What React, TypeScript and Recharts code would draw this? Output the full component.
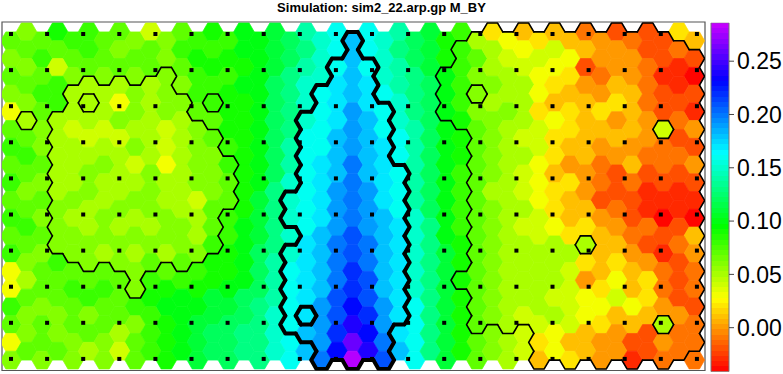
import { ScatterChart, Scatter, XAxis, YAxis, ReferenceLine, ReferenceArea, BarChart, Bar } from "recharts"

const title = "Simulation: sim2_22.arp.gp M_BY"

// one char per hex: value = -0.04 + 0.01 * index in levelChars
const levelChars = "0123456789ABCDEFGHIJKLMNOPQRSTUVWX"

// 19 hex rows x 45 columns (even columns sit half a row lower)
const valueRows = [
  "BABDC" + "CBBA8" + "ABCDC" + "EEFGI" + "JKMKJ" + "IGFDC" + "96756" + "55342" + "32265",
  "ABCBB" + "CBABB" + "ACDCD" + "EEFGH" + "JKMKJ" + "HGFDC" + "B9878" + "87544" + "42232",
  "BAB8A" + "BABAB" + "ABCDC" + "DEFHI" + "JKMKJ" + "IHFEC" + "A9987" + "76234" + "43110",
  "ABCC9" + "999A9" + "AACCD" + "EEGHJ" + "KLMLK" + "IHGEC" + "AA997" + "65445" + "53212",
  "7ABC9" + "997A9" + "AABCD" + "DEGHJ" + "KLNLK" + "JHGEC" + "A9A96" + "56566" + "53221",
  "B9A98" + "98A99" + "89ABD" + "DEGHJ" + "KLNMK" + "JIGED" + "BA998" + "76554" + "54834",
  "CBA99" + "898A9" + "89ABC" + "DEGIK" + "KMNML" + "KIGED" + "BA988" + "65545" + "44322",
  "BCB99" + "9A989" + "79AAC" + "DEGIK" + "LMOML" + "KIGED" + "BA997" + "64534" + "53334",
  "CBA99" + "A999A" + "99AAB" + "DEGJK" + "LMOML" + "KIGEC" + "BA987" + "56432" + "32222",
  "BAB9A" + "A99AA" + "998AB" + "DFHJK" + "LNONL" + "KIGEC" + "B9987" + "65422" + "21111",
  "CBAA9" + "9AA9A" + "A99BC" + "DFHJK" + "LNONM" + "KJGEC" + "BA998" + "65543" + "21010",
  "BCBAA" + "9A9A9" + "AA9BC" + "EFHJK" + "MNPNM" + "LJHEC" + "BA988" + "76654" + "33225",
  "CBAAA" + "A9A9A" + "9AACD" + "EGHJL" + "MOPOM" + "LJHFD" + "BA999" + "99955" + "42134",
  "7ABCB" + "ABAAB" + "BBCDD" + "EGIKL" + "MOQOM" + "LJHFD" + "BA999" + "98656" + "54323",
  "79BBC" + "BCBAC" + "DCDDE" + "EGIKL" + "MOQPM" + "LJHFD" + "BA999" + "98467" + "56323",
  "CBABB" + "CBBCD" + "EEEFF" + "GHIKL" + "NPRPN" + "LKHFD" + "BA999" + "88778" + "76422",
  "BABAB" + "ABBAC" + "DEFFG" + "GHJKL" + "NPSQN" + "LKHFD" + "BA988" + "98765" + "55943",
  "7ABAA" + "BA9BC" + "DEFGG" + "HHJKM" + "NQURO" + "LKHFD" + "BA986" + "75544" + "22433",
  "ABABA" + "9A8BC" + "DEFGG" + "HHJKM" + "ORWSP" + "MKHFD" + "BA985" + "76544" + "12333",
]

// "." outside, "a" thin contour region, "b" thick contour region
const flagRows = [
  "....." + "....." + "....." + "....." + "..b.." + "....." + "aaaaa" + "aaaaa" + "aaa..",
  "....." + "....." + "....." + "....." + "..b.." + "....a" + "aaaaa" + "aaaaa" + "aaaaa",
  "....." + "....." + "a...." + "....." + ".bbb." + "...aa" + "aaaaa" + "aaaaa" + "aaaaa",
  "....a" + "aaaaa" + "a...." + "....." + "bbbb." + "...aa" + ".aaaa" + "aaaaa" + "aaaaa",
  "....a" + ".aaaa" + "aa.a." + "....." + "bbbbb" + "...aa" + "aaaaa" + "aaaaa" + "aaaaa",
  ".a.aa" + "aaaaa" + "aaa.." + "....b" + "bbbbb" + "....a" + "aaaaa" + "aaaaa" + "aa.aa",
  "...aa" + "aaaaa" + "aaaa." + "....b" + "bbbbb" + "....." + "aaaaa" + "aaaaa" + "aaaaa",
  "...aa" + "aaaaa" + "aaaaa" + "....b" + "bbbbb" + "....." + "aaaaa" + "aaaaa" + "aaaaa",
  "...aa" + "aaaaa" + "aaaaa" + "....b" + "bbbbb" + "b...." + "aaaaa" + "aaaaa" + "aaaaa",
  "...aa" + "aaaaa" + "aaaaa" + "...bb" + "bbbbb" + "b...." + "aaaaa" + "aaaaa" + "aaaaa",
  "...aa" + "aaaaa" + "aaaa." + "...bb" + "bbbbb" + "b...." + "aaaaa" + "aaaaa" + "aaaaa",
  "...aa" + "aaaaa" + "aaaa." + "....b" + "bbbbb" + "b...." + "aaaaa" + "aaaaa" + "aaaaa",
  "...aa" + "aaaaa" + "aaaa." + "...bb" + "bbbbb" + "b...." + "aaaaa" + "aa.aa" + "aaaaa",
  "....." + "a.aaa" + ".a..." + "...bb" + "bbbbb" + "b...." + "aaaaa" + "aaaaa" + "aaaaa",
  "....." + "...a." + "....." + "...bb" + "bbbbb" + "b...a" + "aaaaa" + "aaaaa" + "aaaaa",
  "....." + "....." + "....." + "...bb" + "bbbbb" + "b...." + "aaaaa" + "aaaaa" + "aaaaa",
  "....." + "....." + "....." + "...b." + "bbbbb" + "b...." + "aaaaa" + "aaaaa" + "aa.aa",
  "....." + "....." + "....." + "....b" + "bbbbb" + "....." + "....a" + "aaaaa" + "aaaaa",
  "....." + "....." + "....." + "....." + "bbbbb" + "....." + "....a" + "aaaaa" + "aaaa.",
]

const siteCols = [0, 1, 2, 3, 4, 5, 6, 7, 8, 9, 10, 11, 12, 13, 14, 15, 16, 17, 18, 19]
const siteRows = [0, 1, 2, 3, 4, 5, 6, 7, 8, 9]
const barrierLine = [{ x: 9.5, y: 0 }, { x: 9.5, y: 9 }]

const colorTicks = [0, 0.05, 0.1, 0.15, 0.2, 0.25]
const colorRange: [number, number] = [-0.0413, 0.2861]

// layout
const W = 783
const H = 374
const PLOT = { left: 2, top: 22, right: 705, bottom: 370.5 }
const HEX_X: [number, number] = [-0.5795, 44.688]
const HEX_Y: [number, number] = [-1.116, 38.173]
const SITE_X: [number, number] = [-0.2493, 19.224]
const SITE_Y: [number, number] = [-0.3324, 9.321]
const colW = (PLOT.right - PLOT.left) / (HEX_X[1] - HEX_X[0])
const halfRow = (PLOT.bottom - PLOT.top) / (HEX_Y[1] - HEX_Y[0])
const hexR = colW / 1.5

type Cell = { k: number; m: number; v: number; flag: string }

const cells: Cell[] = []
valueRows.forEach((row, r) => {
  for (let k = 0; k < row.length; k++) {
    cells.push({
      k,
      m: 2 * r + (k % 2 === 0 ? 1 : 0),
      v: -0.04 + 0.01 * levelChars.indexOf(row[k]),
      flag: flagRows[r][k],
    })
  }
})

const sites = siteRows.flatMap((sy) => siteCols.map((sx) => ({ sx, sy })))

function flagAt(k: number, m: number) {
  if (k < 0 || k >= valueRows[0].length) return "."
  const r = k % 2 === 0 ? (m - 1) / 2 : m / 2
  if (r < 0 || r >= flagRows.length) return "."
  return flagRows[r][k]
}

function colorFor(v: number) {
  const h = Math.max(0, Math.min(290, (v + 0.041) * 880))
  return `hsl(${h.toFixed(1)}, 100%, 50%)`
}

// flat-top hexagon corners in (hexR, halfRow) units
const corners = [[1, 0], [0.5, 1], [-0.5, 1], [-1, 0], [-0.5, -1], [0.5, -1]]
const edges = [
  { dk: 0, dm: -2, a: 4, b: 5 },
  { dk: 1, dm: -1, a: 5, b: 0 },
  { dk: 1, dm: 1, a: 0, b: 1 },
  { dk: 0, dm: 2, a: 1, b: 2 },
  { dk: -1, dm: 1, a: 2, b: 3 },
  { dk: -1, dm: -1, a: 3, b: 4 },
]

function HexFill(props: any) {
  const { cx, cy, payload } = props
  const pts = corners.map(([a, b]) => `${cx + a * hexR},${cy + b * halfRow}`).join(" ")
  const c = colorFor(payload.v)
  return <polygon points={pts} fill={c} stroke={c} strokeWidth={0.7} />
}

function HexEdges(props: any) {
  const { cx, cy, payload } = props
  if (payload.flag === ".") return <g />
  let d = ""
  for (const e of edges) {
    if (flagAt(payload.k + e.dk, payload.m + e.dm) === payload.flag) continue
    const [ax, ay] = corners[e.a]
    const [bx, by] = corners[e.b]
    d += `M${cx + ax * hexR},${cy + ay * halfRow}L${cx + bx * hexR},${cy + by * halfRow}`
  }
  if (!d) return <g />
  return (
    <path
      d={d}
      fill="none"
      stroke="#000"
      strokeWidth={payload.flag === "b" ? 4 : 1.6}
      strokeLinecap="round"
    />
  )
}

function SiteDot(props: any) {
  const { cx, cy } = props
  return <rect x={cx - 2} y={cy - 2} width={4} height={4} fill="#000" />
}

const bands = 66
const gradientStops = Array.from({ length: bands }).flatMap((_, i) => {
  const v = colorRange[1] - ((i + 0.5) / bands) * (colorRange[1] - colorRange[0])
  const c = colorFor(v)
  return [
    <stop key={`a${i}`} offset={i / bands} stopColor={c} />,
    <stop key={`b${i}`} offset={(i + 1) / bands} stopColor={c} />,
  ]
})

const colorBarData = [{ name: "scale", range: colorRange }]

export default function App() {
  return (
    <div style={{ position: "fixed", left: 0, top: 0, width: W, height: H, background: "#fff" }}>
      <div
        style={{
          position: "absolute",
          left: 0,
          top: 1,
          width: 763,
          textAlign: "center",
          fontFamily: "'Liberation Sans', Arial, sans-serif",
          fontWeight: "bold",
          fontSize: 13,
          lineHeight: "14px",
          color: "#000",
        }}
      >
        {title}
      </div>
      <div style={{ position: "absolute", left: 0, top: 0 }}>
        <ScatterChart
          width={W}
          height={H}
          margin={{ top: PLOT.top, left: PLOT.left, right: W - PLOT.right, bottom: H - PLOT.bottom }}
        >
          <XAxis xAxisId="hex" type="number" dataKey="k" domain={HEX_X} hide allowDataOverflow />
          <YAxis yAxisId="hex" type="number" dataKey="m" domain={HEX_Y} reversed hide allowDataOverflow />
          <XAxis xAxisId="site" type="number" dataKey="sx" domain={SITE_X} hide allowDataOverflow />
          <YAxis yAxisId="site" type="number" dataKey="sy" domain={SITE_Y} reversed hide allowDataOverflow />
          <Scatter xAxisId="hex" yAxisId="hex" data={cells} shape={HexFill} isAnimationActive={false} />
          <Scatter xAxisId="hex" yAxisId="hex" data={cells} shape={HexEdges} isAnimationActive={false} />
          <ReferenceLine
            xAxisId="site"
            yAxisId="site"
            segment={barrierLine}
            stroke="#f2eeff"
            strokeWidth={1.5}
          />
          <Scatter xAxisId="site" yAxisId="site" data={sites} shape={SiteDot} isAnimationActive={false} />
          <ReferenceArea
            xAxisId="hex"
            yAxisId="hex"
            x1={HEX_X[0]}
            x2={HEX_X[1]}
            y1={HEX_Y[0]}
            y2={HEX_Y[1]}
            fill="none"
            stroke="#555"
            strokeWidth={1.2}
          />
        </ScatterChart>
      </div>
      <div style={{ position: "absolute", left: 0, top: 0 }}>
        <BarChart
          width={W}
          height={H}
          data={colorBarData}
          margin={{ top: 22.7, bottom: H - 371.7, left: 711, right: 0 }}
          barCategoryGap={0}
        >
          <defs>
            <linearGradient id="cbar" x1="0" y1="0" x2="0" y2="1">
              {gradientStops}
            </linearGradient>
          </defs>
          <XAxis dataKey="name" hide />
          <YAxis
            orientation="right"
            type="number"
            domain={colorRange}
            ticks={colorTicks}
            width={54}
            allowDataOverflow
            axisLine={false}
            tickLine={{ stroke: "#444" }}
            tickSize={5}
            tickMargin={3}
            tickFormatter={(v: number) => v.toFixed(2)}
            tick={{ fill: "#000", fontSize: 23, fontFamily: "'Liberation Sans', Arial, sans-serif" }}
          />
          <Bar dataKey="range" fill="url(#cbar)" stroke="#777" isAnimationActive={false} />
        </BarChart>
      </div>
    </div>
  )
}
